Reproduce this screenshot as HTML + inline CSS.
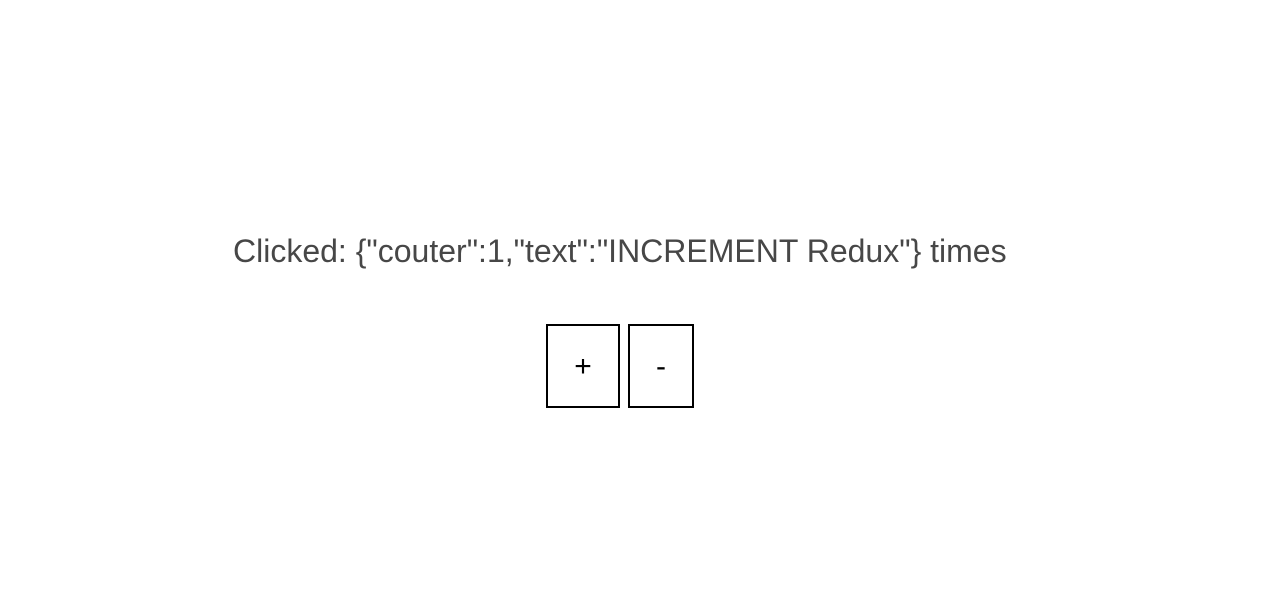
<!DOCTYPE html>
<html><head><style>
html,body{margin:0;padding:0;background:#fff;width:1262px;height:606px;overflow:hidden;font-family:"Liberation Sans",Arial,sans-serif;}
.t{position:absolute;left:233px;top:232px;font-size:32px;color:#474747;white-space:nowrap;line-height:38px;}
.b{position:absolute;top:324px;height:78px;padding-top:2px;border:2px solid #000;box-sizing:content-box;font-size:30px;color:#000;display:flex;align-items:center;justify-content:center;}
</style></head><body>
<div class="t">Clicked: {"couter":1,"text":"INCREMENT Redux"} times</div>
<div class="b" style="left:546px;width:70px;">+</div>
<div class="b" style="left:628px;width:62px;">-</div>
</body></html>
